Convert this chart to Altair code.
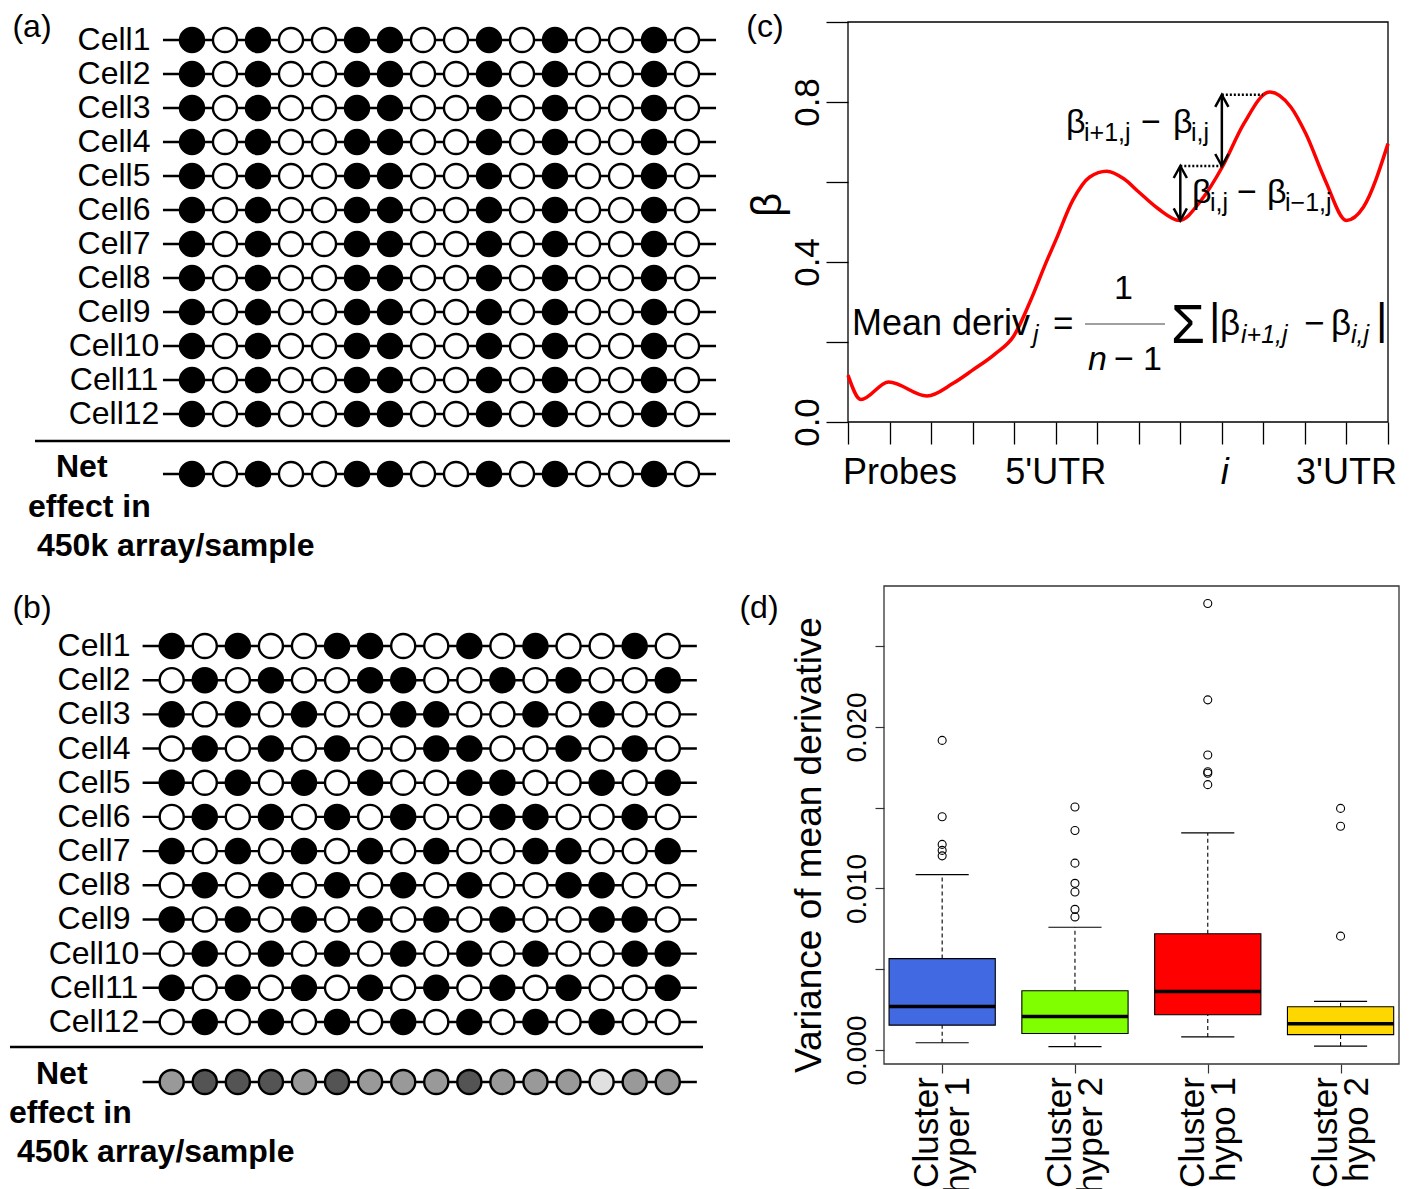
import altair as alt
import pandas as pd

OFF = 8                 # page margin of the html page
W, H = 1395, 1181       # drawing canvas = whole figure
FONT = "Liberation Sans"

# ======================= DATA =======================
CELLS = [f"Cell{i}" for i in range(1, 13)]
PROBES = list(range(1, 17))

# (a) identical methylation pattern in every cell (1 = methylated)
PATTERN_A_CELL = [1, 0, 1, 0, 0, 1, 1, 0, 0, 1, 0, 1, 0, 0, 1, 0]
NET_A = [1, 0, 1, 0, 0, 1, 1, 0, 0, 1, 0, 1, 0, 0, 1, 0]

# (b) heterogeneous cells
PATTERN_B = [
    [1, 0, 1, 0, 0, 1, 1, 0, 0, 1, 0, 1, 0, 0, 1, 0],
    [0, 1, 0, 1, 0, 0, 1, 1, 0, 0, 1, 0, 1, 0, 0, 1],
    [1, 0, 1, 0, 1, 0, 0, 1, 1, 0, 0, 1, 0, 1, 0, 0],
    [0, 1, 0, 1, 0, 1, 0, 0, 1, 1, 0, 0, 1, 0, 1, 0],
    [1, 0, 1, 0, 1, 0, 1, 0, 0, 1, 1, 0, 0, 1, 0, 1],
    [0, 1, 0, 1, 0, 1, 0, 1, 0, 0, 1, 1, 0, 0, 1, 0],
    [1, 0, 1, 0, 1, 0, 1, 0, 1, 0, 0, 1, 1, 0, 0, 1],
    [0, 1, 0, 1, 0, 1, 0, 1, 0, 1, 0, 0, 1, 1, 0, 0],
    [1, 0, 1, 0, 1, 0, 1, 0, 1, 0, 1, 0, 0, 1, 1, 0],
    [0, 1, 0, 1, 0, 1, 0, 1, 0, 1, 0, 1, 0, 0, 1, 1],
    [1, 0, 1, 0, 1, 0, 1, 0, 1, 0, 1, 0, 1, 0, 0, 1],
    [0, 1, 0, 1, 0, 1, 0, 1, 0, 1, 0, 1, 0, 1, 0, 0],
]
# net effect in the array: methylation level shown as grey level
NET_B = [0.40, 0.67, 0.67, 0.67, 0.40, 0.67, 0.40, 0.40,
         0.40, 0.67, 0.40, 0.40, 0.40, 0.12, 0.40, 0.40]
NET_TEXT = ["Net", "effect in", "450k array/sample"]

# (c) beta profile along probes
CURVE_T = [0, 0.31, 0.98, 1.9, 2.52, 2.99, 3.55, 3.99, 4.38, 4.79, 5.0, 5.41,
           5.82, 6.23, 6.64, 7.0, 7.47, 7.98, 8.5, 9.01, 9.53, 10.15, 10.66,
           11.02, 11.49, 12.0, 12.41, 13.0]
CURVE_BETA = [0.117, 0.056, 0.10, 0.065, 0.096, 0.129, 0.171, 0.215, 0.30,
              0.404, 0.454, 0.554, 0.6125, 0.627, 0.608, 0.575, 0.533, 0.504,
              0.554, 0.6375, 0.746, 0.825, 0.7875, 0.721, 0.604, 0.504,
              0.5375, 0.696]
C_XTICKS = list(range(14))
C_YTICKS = [0.0, 0.2, 0.4, 0.6, 0.8, 1.0]
C_XLABELS = ["Probes", "5'UTR", "3'UTR"]
C_XLABEL_POS = [1.25, 5.0, 12.0]
C_ILABEL_POS = 9.07
ARROWS = [(8, 0.504, 0.64), (9, 0.64, 0.818)]          # probe, from, to
DOTTED = [(8, 9, 0.64), (9, 9.99, 0.818)]              # from, to, level

# (d) boxplot summary
GROUP_KEYS = ["hyper 1", "hyper 2", "hypo 1", "hypo 2"]
BOX_COLORS = ["#4169E1", "#7FFF00", "#FF0000", "#FFD700"]
Q1 = [0.00154, 0.00102, 0.00218, 0.00095]
MED = [0.00270, 0.00208, 0.00362, 0.00163]
Q3 = [0.00566, 0.00367, 0.00720, 0.00268]
LOW = [0.00045, 0.00021, 0.00081, 0.00024]
UP = [0.01086, 0.00760, 0.01344, 0.00301]
OUTLIERS = [
    [0.01917, 0.01444, 0.01273, 0.01236, 0.01202],
    [0.01505, 0.01359, 0.01157, 0.01032, 0.00978, 0.00871, 0.00824],
    [0.02765, 0.02168, 0.01827, 0.01723, 0.01714, 0.01643],
    [0.01496, 0.01385, 0.00705],
]
D_YTICKS = [0.0, 0.005, 0.010, 0.015, 0.020, 0.025]

layers = []


def sc(domain, rng):
    return alt.Scale(domain=domain, range=[r - OFF for r in rng], zero=False, nice=False)


# ======================= panels (a) and (b) =======================
def dot_panel(cell_rows, net, x_first, dxp, y_first, dyp, label_cx, note_lefts,
              note_ys, sep_x, sep_y, letter, letter_xy):
    xs = sc([1, 16], [x_first, x_first + 15 * dxp])
    ys = sc([1, 12], [y_first, y_first + 11 * dyp])
    ux = lambda p: 1 + (p - x_first) / dxp
    uy = lambda p: 1 + (p - y_first) / dyp
    X = lambda f: alt.X(f, scale=xs, axis=None)
    Y = lambda f: alt.Y(f, scale=ys, axis=None)
    net_row = uy(y_first + 11 * dyp + 60)
    rows = list(range(1, 13)) + [net_row]
    lines = pd.DataFrame({"row": rows, "a": [0.12] * 13, "b": [16.88] * 13})
    recs = []
    for r, pat in enumerate(cell_rows, start=1):
        for p, m in zip(PROBES, pat):
            recs.append({"row": r, "probe": p, "level": m})
    for p, m in zip(PROBES, net):
        recs.append({"row": net_row, "probe": p, "level": m})
    dots = pd.DataFrame(recs)
    out = []
    out.append(alt.Chart(lines).mark_rule(color="black", strokeWidth=2.4).encode(
        x=X("a:Q"), x2="b:Q", y=Y("row:Q")))
    out.append(alt.Chart(dots).mark_point(
        shape="circle", filled=True, size=580, stroke="black", strokeWidth=2.4,
        opacity=1).encode(
        x=X("probe:Q"), y=Y("row:Q"),
        fill=alt.Fill("level:Q", legend=None,
                      scale=alt.Scale(domain=[0, 1], range=["#ffffff", "#000000"],
                                      interpolate="rgb"))))
    sep = pd.DataFrame({"a": [ux(sep_x[0])], "b": [ux(sep_x[1])], "row": [uy(sep_y)]})
    out.append(alt.Chart(sep).mark_rule(color="black", strokeWidth=2.4).encode(
        x=X("a:Q"), x2="b:Q", y=Y("row:Q")))
    lab = pd.DataFrame({"cell": CELLS, "row": list(range(1, 13)), "x": [ux(label_cx)] * 12})
    out.append(alt.Chart(lab).mark_text(font=FONT, fontSize=32, align="center",
                                        baseline="middle", color="black").encode(
        x=X("x:Q"), y=Y("row:Q"), text="cell:N"))
    note = pd.DataFrame({"txt": NET_TEXT, "row": [uy(v) for v in note_ys],
                         "x": [ux(v) for v in note_lefts]})
    out.append(alt.Chart(note).mark_text(font=FONT, fontSize=32, fontWeight="bold",
                                         align="left", baseline="middle",
                                         color="black").encode(
        x=X("x:Q"), y=Y("row:Q"), text="txt:N"))
    let = pd.DataFrame({"txt": [letter], "x": [ux(letter_xy[0])], "row": [uy(letter_xy[1])]})
    out.append(alt.Chart(let).mark_text(font=FONT, fontSize=32, align="center",
                                        baseline="middle", color="black").encode(
        x=X("x:Q"), y=Y("row:Q"), text="txt:N"))
    return out


layers += dot_panel([PATTERN_A_CELL] * 12, NET_A, 192, 33.0, 40, 34.0, 114,
                    [56, 28, 37], [467, 507, 546], (35, 730), 441, "(a)", (32, 27))
layers += dot_panel(PATTERN_B, NET_B, 171.7, 33.07, 646, 34.18, 94,
                    [36, 9, 17], [1074, 1113, 1152], (10, 703), 1047, "(b)", (32, 608))

# ======================= panel (c) =======================
CX0, CX1, CY0, CY1 = 848, 1388, 422, 22
xs_c = sc([0, 13], [CX0, CX1])
ys_c = sc([0, 1], [CY0, CY1])
tC = lambda x: (x - CX0) * 13 / (CX1 - CX0)
bC = lambda y: (CY0 - y) / (CY0 - CY1)
XC = lambda f, ax=None: alt.X(f, scale=xs_c, axis=ax)
YC = lambda f, ax=None: alt.Y(f, scale=ys_c, axis=ax)

frame_c = pd.DataFrame({"a": [0], "b": [13], "lo": [0], "hi": [1]})
layers.append(alt.Chart(frame_c).mark_rect(fill="transparent", stroke="black",
                                           strokeWidth=1.3).encode(
    x=XC("a:Q"), x2="b:Q",
    y=YC("lo:Q", alt.Axis(orient="left", offset=-(CX0 - OFF), values=C_YTICKS, title="",
                          tickSize=22, tickWidth=1.3, tickColor="black", domain=False,
                          grid=False, labelAngle=270, labelAlign="center",
                          labelBaseline="alphabetic", labelPadding=8, labelFont=FONT,
                          labelFontSize=35, labelColor="black", labelOverlap=False,
                          labelExpr="round(datum.value*10) % 4 == 0 ? format(datum.value, '.1f') : ''")),
    y2="hi:Q"))

curve = pd.DataFrame({"t": CURVE_T, "beta": CURVE_BETA})
layers.append(alt.Chart(curve).mark_line(color="#ff0000", strokeWidth=3.5,
                                         interpolate="monotone").encode(
    x=XC("t:Q", alt.Axis(orient="bottom", offset=-(H - (CY0 - OFF)), values=C_XTICKS,
                         title="", tickSize=22, tickWidth=1.3, tickColor="black",
                         labels=False, domain=False, grid=False)),
    y=YC("beta:Q")))

dot = pd.DataFrame({"a": [d[0] for d in DOTTED], "b": [d[1] for d in DOTTED],
                    "lev": [d[2] for d in DOTTED]})
layers.append(alt.Chart(dot).mark_rule(color="black", strokeWidth=2.5,
                                       strokeDash=[2, 2]).encode(
    x=XC("a:Q"), x2="b:Q", y=YC("lev:Q")))
arr = pd.DataFrame({"t": [a[0] for a in ARROWS], "lo": [a[1] for a in ARROWS],
                    "hi": [a[2] for a in ARROWS]})
layers.append(alt.Chart(arr).mark_rule(color="black", strokeWidth=2.5).encode(
    x=XC("t:Q"), y=YC("lo:Q"), y2="hi:Q"))
layers.append(alt.Chart(arr).mark_point(shape="M -0.55 1 L 0 0 L 0.55 1", filled=False,
                                        size=576, strokeWidth=2.5, color="black",
                                        opacity=1).encode(x=XC("t:Q"), y=YC("hi:Q")))
layers.append(alt.Chart(arr).mark_point(shape="M -0.55 -1 L 0 0 L 0.55 -1", filled=False,
                                        size=576, strokeWidth=2.5, color="black",
                                        opacity=1).encode(x=XC("t:Q"), y=YC("lo:Q")))

# annotation text pieces: text, left x, baseline y (page px), size, italic
PIECES = [
    ("β", 1066, 133, 34, False), ("i+1,j", 1084, 141, 25, False),
    ("−", 1141, 133, 34, False), ("β", 1173, 133, 34, False), ("i,j", 1191, 141, 25, False),
    ("β", 1192, 203, 34, False), ("i,j", 1210, 211, 25, False),
    ("−", 1237, 203, 34, False), ("β", 1267, 203, 34, False), ("i−1,j", 1285, 211, 25, False),
    ("Mean deriv", 852, 335, 36, False), ("j", 1033, 343, 25, True),
    ("=", 1053, 335, 35, False), ("1", 1114, 299, 34, False),
    ("n", 1088, 370, 34, True), ("−", 1114, 370, 34, False), ("1", 1143, 370, 34, False),
    ("Σ", 1171, 343, 55, False), ("|", 1209, 334, 44, False),
    ("β", 1220, 335, 35, False), ("i+1,j", 1241, 343, 25, True),
    ("−", 1304, 335, 35, False), ("β", 1331, 335, 35, False),
    ("i,j", 1351, 343, 25, True), ("|", 1376, 334, 44, False),
]
pcs = pd.DataFrame({"txt": [p[0] for p in PIECES], "t": [tC(p[1]) for p in PIECES],
                    "b": [bC(p[2]) for p in PIECES], "fs": [p[3] for p in PIECES],
                    "it": [p[4] for p in PIECES]})
for italic in (False, True):
    sub = pcs[pcs["it"] == italic]
    layers.append(alt.Chart(sub).mark_text(font=FONT, align="left", baseline="alphabetic",
                                           color="black",
                                           fontStyle="italic" if italic else "normal").encode(
        x=XC("t:Q"), y=YC("b:Q"), text="txt:N", size=alt.Size("fs:Q", scale=None)))
frac = pd.DataFrame({"a": [tC(1085)], "b": [tC(1165)], "lev": [bC(324)]})
layers.append(alt.Chart(frac).mark_rule(color="#808080", strokeWidth=1.5).encode(
    x=XC("a:Q"), x2="b:Q", y=YC("lev:Q")))

xl = pd.DataFrame({"txt": C_XLABELS, "t": C_XLABEL_POS, "b": [bC(484)] * 3})
layers.append(alt.Chart(xl).mark_text(font=FONT, fontSize=36, align="center",
                                      baseline="alphabetic", color="black").encode(
    x=XC("t:Q"), y=YC("b:Q"), text="txt:N"))
il = pd.DataFrame({"txt": ["i"], "t": [C_ILABEL_POS], "b": [bC(484)]})
layers.append(alt.Chart(il).mark_text(font=FONT, fontSize=36, align="center",
                                      baseline="alphabetic", fontStyle="italic",
                                      color="black").encode(
    x=XC("t:Q"), y=YC("b:Q"), text="txt:N"))
ct = pd.DataFrame({"txt": ["β", "(c)"], "t": [tC(768), tC(765)], "b": [bC(205), bC(27)]})
layers.append(alt.Chart(ct.iloc[[0]]).mark_text(font=FONT, fontSize=42, angle=270,
                                                align="center", baseline="middle",
                                                color="black").encode(
    x=XC("t:Q"), y=YC("b:Q"), text="txt:N"))
layers.append(alt.Chart(ct.iloc[[1]]).mark_text(font=FONT, fontSize=32, align="center",
                                                baseline="middle", color="black").encode(
    x=XC("t:Q"), y=YC("b:Q"), text="txt:N"))

# ======================= panel (d) =======================
DX0, DX1, DY0, DY1 = 884, 1399, 1064, 586
DLO, DHI = -0.000867, 0.02873
UL, UR = 0.562, 4.44
xs_d = sc([UL, UR], [DX0, DX1])
ys_d = sc([DLO, DHI], [DY0, DY1])
uD = lambda x: UL + (x - DX0) * (UR - UL) / (DX1 - DX0)
vD = lambda y: DLO + (DY0 - y) * (DHI - DLO) / (DY0 - DY1)
XD = lambda f, ax=None: alt.X(f, scale=xs_d, axis=ax)
YD = lambda f, ax=None: alt.Y(f, scale=ys_d, axis=ax)
pos = [1, 2, 3, 4]

frame_d = pd.DataFrame({"a": [UL], "b": [UR], "lo": [DLO], "hi": [DHI]})
layers.append(alt.Chart(frame_d).mark_rect(fill="transparent", stroke="#333333",
                                           strokeWidth=1.3).encode(
    x=XD("a:Q"), x2="b:Q",
    y=YD("lo:Q", alt.Axis(orient="left", offset=-(DX0 - OFF), values=D_YTICKS, title="",
                          tickSize=9, tickWidth=1.2, tickColor="#333333", domain=False,
                          grid=False, labelAngle=270, labelAlign="center",
                          labelBaseline="alphabetic", labelPadding=10, labelFont=FONT,
                          labelFontSize=28, labelColor="black", labelOverlap=False,
                          labelExpr="round(datum.value*1000) % 10 == 0 ? format(datum.value, '.3f') : ''")),
    y2="hi:Q"))

box = pd.DataFrame({"g": GROUP_KEYS, "c": pos, "l": [p - 0.4 for p in pos],
                    "r": [p + 0.4 for p in pos], "cl": [p - 0.2 for p in pos],
                    "cr": [p + 0.2 for p in pos], "q1": Q1, "med": MED, "q3": Q3,
                    "lw": LOW, "uw": UP})
layers.append(alt.Chart(box).mark_rule(color="black", strokeWidth=1.1,
                                       strokeDash=[4, 3]).encode(
    x=XD("c:Q", alt.Axis(orient="bottom", offset=-(H - (DY0 - OFF)), values=pos,
                         title="", tickSize=9, tickWidth=1.2, tickColor="#333333",
                         labels=False, domain=False, grid=False)),
    y=YD("q3:Q"), y2="uw:Q"))
layers.append(alt.Chart(box).mark_rule(color="black", strokeWidth=1.1,
                                       strokeDash=[4, 3]).encode(
    x=XD("c:Q"), y=YD("lw:Q"), y2="q1:Q"))
for f in ("uw", "lw"):
    layers.append(alt.Chart(box).mark_rule(color="black", strokeWidth=1.2).encode(
        x=XD("cl:Q"), x2="cr:Q", y=YD(f + ":Q")))
layers.append(alt.Chart(box).mark_rect(stroke="black", strokeWidth=1.1).encode(
    x=XD("l:Q"), x2="r:Q", y=YD("q1:Q"), y2="q3:Q",
    fill=alt.Fill("g:N", legend=None, scale=alt.Scale(domain=GROUP_KEYS, range=BOX_COLORS))))
layers.append(alt.Chart(box).mark_rule(color="black", strokeWidth=3.5).encode(
    x=XD("l:Q"), x2="r:Q", y=YD("med:Q")))
outl = pd.DataFrame([{"c": p, "v": v} for p, vs in zip(pos, OUTLIERS) for v in vs])
layers.append(alt.Chart(outl).mark_point(shape="circle", filled=False, size=64,
                                         color="black", strokeWidth=1.1, opacity=1).encode(
    x=XD("c:Q"), y=YD("v:Q")))
xlab = pd.DataFrame({"txt": ["Cluster\n" + g for g in GROUP_KEYS],
                     "x": [p - 3.8 * (UR - UL) / (DX1 - DX0) for p in pos],
                     "y": [vD(1077)] * 4})
layers.append(alt.Chart(xlab).mark_text(font=FONT, fontSize=35, angle=270, align="right",
                                        baseline="alphabetic", lineBreak="\n",
                                        lineHeight=31, color="black").encode(
    x=XD("x:Q"), y=YD("y:Q"), text="txt:N"))
yt = pd.DataFrame({"txt": ["Variance of mean derivative"], "x": [uD(821)], "y": [vD(845)]})
layers.append(alt.Chart(yt).mark_text(font=FONT, fontSize=37, angle=270, align="center",
                                      baseline="alphabetic", color="black").encode(
    x=XD("x:Q"), y=YD("y:Q"), text="txt:N"))
dl = pd.DataFrame({"txt": ["(d)"], "x": [uD(759)], "y": [vD(608)]})
layers.append(alt.Chart(dl).mark_text(font=FONT, fontSize=32, align="center",
                                      baseline="middle", color="black").encode(
    x=XD("x:Q"), y=YD("y:Q"), text="txt:N"))

chart = alt.layer(*layers).resolve_scale(
    x="independent", y="independent", fill="independent"
).properties(
    width=W, height=H, padding=0, autosize=alt.AutoSizeParams(type="none")
).configure_view(strokeWidth=0)

chart.save("out.html", embed_options={"renderer": "svg", "actions": False})
